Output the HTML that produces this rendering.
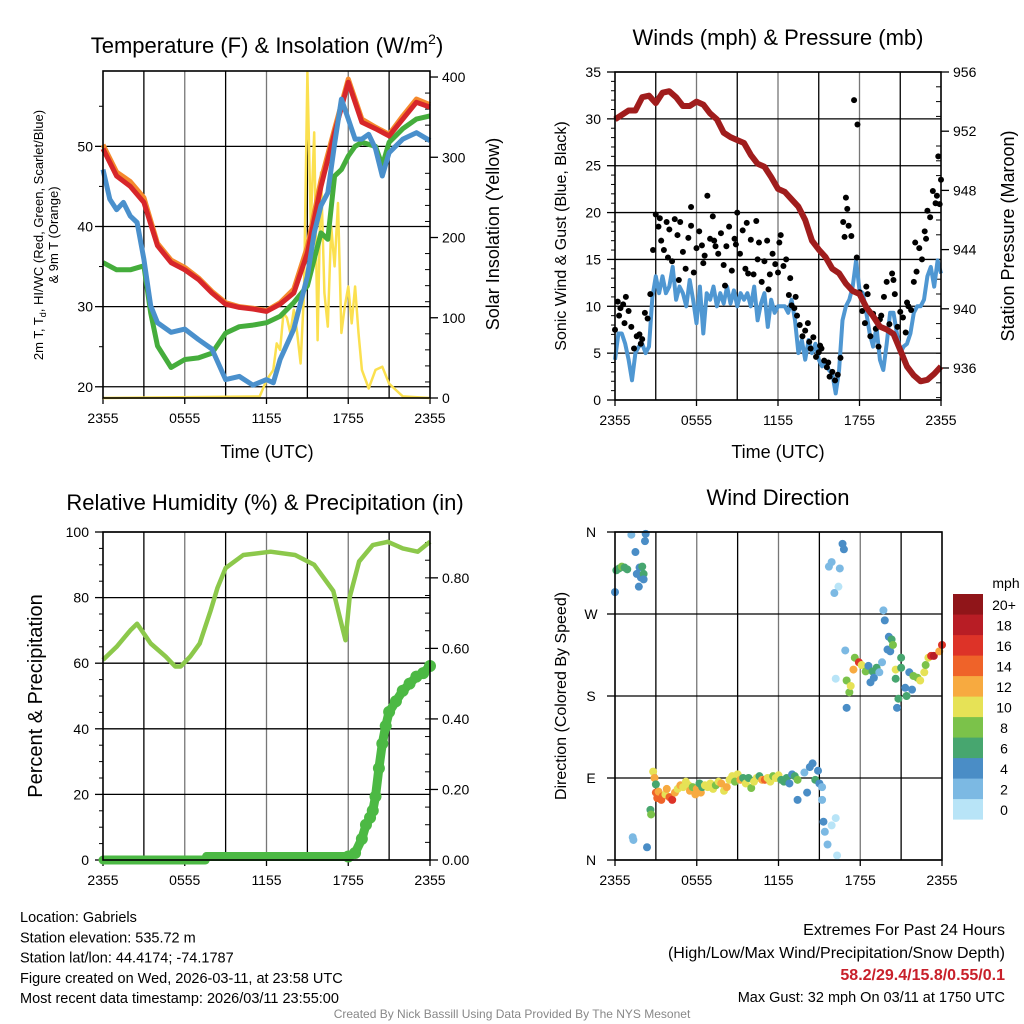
<!DOCTYPE html>
<html><head><meta charset="utf-8"><style>
html,body{margin:0;padding:0;background:#fff;}
svg{display:block;font-family:"Liberation Sans",Arial,sans-serif;}
</style></head><body>
<svg id="chart" width="1024" height="1024" viewBox="0 0 1024 1024" xmlns="http://www.w3.org/2000/svg"></svg>
<script>
// ---------- Panel 1 data: temperature (F) & insolation ----------
const tempHours = [0,1,2,3,4,5,6,7,8,9,10,11,12,13,14,15,16,17,18,19,20,21,22,23,24];
const tempRed = [49.7,46.3,45,43,37.6,35.5,34.6,33.4,31.7,30.3,29.9,29.7,29.4,30.3,31.7,36.7,45,51.7,58,53,52.2,51.3,53.4,55.5,54.9];
const tempOrange = [50.2,46.8,45.6,43.6,37.9,35.8,34.9,33.6,31.9,30.5,30.0,29.8,29.5,30.5,32.2,37.5,45.8,52.2,58.4,53.4,52.4,51.5,53.8,55.9,55.2];
const hiHours = [0,0.5,1,1.5,2,2.5,3,3.5,4,5,6,7,8,9,10,11,12,12.5,13,14,15,15.5,16,16.5,17,17.5,18,18.5,19,19.5,20,20.5,21,22,23,24];
const tempBlue = [47.1,43.4,42.1,43,41.3,40.5,35.9,30.1,28,26.8,27.2,25.9,24.7,20.9,21.3,20.2,20.9,20.5,23.4,27.2,33.8,39.2,42.6,44.2,50.3,55.9,53.4,50.9,50.9,51.5,49.7,46.3,49.2,50.9,51.7,50.7];
const dewHours = [0,1,2,3,3.5,4,5,6,7,8,9,10,11,12,13,14,15,15.5,16,16.5,17,17.5,18,18.5,19,20,20.5,21,22,23,24];
const tempGreen = [35.5,34.6,34.6,35.1,29.2,25.1,22.4,23.4,23.6,24.2,26.7,27.5,27.7,28,28.8,30.5,32.6,35.9,39.2,38.4,46.3,47.1,48.8,50,50.5,50,47.6,50.5,52.2,53.4,53.8];
const solarHours = [0,11.5,12,12.5,12.75,13,13.25,13.5,13.75,14,14.25,14.5,14.75,15,15.25,15.5,15.75,16,16.25,16.5,16.75,17,17.25,17.5,17.75,18,18.25,18.5,18.75,19,19.5,20,20.5,21,21.5,22,24];
const solarValues = [0,2,22,35,68,60,106,100,81,110,81,43,131,406,214,331,72,281,131,89,214,164,243,81,114,139,93,139,81,35,12,35,39,18,10,2,0];
const p1LeftTicks = [20,30,40,50];
const p1RightTicks = [0,100,200,300,400];
const timeTickLabels = ["2355","0555","1155","1755","2355"];

// ---------- Panel 2 data: winds & pressure ----------
const windStep = 0.25;
const windSonic = [4.3,7.1,7.1,6.0,4.3,2.1,5.0,5.7,6.0,5.0,5.7,11.0,13.2,11.4,13.2,11.4,12.1,14.2,10.7,12.1,11.4,10.0,12.8,10.7,8.2,12.1,7.1,11.4,10.7,12.1,10.0,11.4,10.3,12.1,10.3,11.7,10.0,11.4,10.7,11.4,10.0,12.1,8.5,10.3,11.4,7.8,10.7,9.3,10.0,10.0,10.0,9.3,10.7,8.5,5.0,6.4,4.3,6.4,5.0,6.0,4.3,3.6,3.9,3.2,2.8,0.7,3.2,8.5,10.0,10.7,12.1,14.9,11.7,11.4,9.3,7.1,5.7,7.8,4.3,3.2,6.0,9.3,9.3,7.1,5.0,5.7,6.0,7.1,9.3,10.0,10.0,10.7,13.2,14.2,12.1,14.9,13.5];
const gustStep = 0.2;
const gustValues = [7.5,10.5,9.8,10.2,11,9.5,7.8,5.5,6.8,7.0,6.5,9.3,8.7,11.3,16.0,19.8,18.5,17.0,16.0,19.0,18.2,14.8,19.3,17.6,19.0,15.8,14.0,17.3,20.6,13.6,16.2,18.0,16.5,15.4,21.8,17.2,19.6,16.4,15.6,17.8,14.4,16.4,18.5,13.8,17.2,20.0,15.6,18.1,14.0,13.5,17.1,13.4,19.1,16.8,12.6,14.8,17.0,13.4,15.6,14.5,13.6,17.6,14.3,15.0,11.2,10.1,9.8,9.0,8.0,6.8,7.4,8.2,5.5,6.7,4.6,5.1,5.5,4.2,3.5,2.5,3.0,2.1,2.7,4.5,19.0,21.6,18.6,17.5,32.0,15.2,11.5,9.5,8.2,11.3,6.8,9.2,7.6,5.7,9.0,11.0,12.6,8.1,13.5,11.3,7.8,9.4,8.8,7.2,10.0,9.6,12.6,13.7,16.2,15.0,18.0,20.2,19.5,22.3,21.0,26.0,23.5];
const gustExtraHours = [0.3,0.7,1.9,3.3,3.9,4.7,5.6,6.5,7.3,8.1,8.9,9.7,10.5,11.3,12.1,12.9,13.3,14.3,15.1,15.7,16.9,17.1,17.85,18.5,19.5,20.5,21.5,22.1,22.9,23.7,23.9];
const gustExtraValues = [9.0,8.2,6.0,19.4,15.2,12.8,18.6,14.6,17.0,12.2,16.6,18.9,15.0,11.8,16.8,13.0,11.0,6.2,5.8,4.0,17.4,20.4,29.4,12.1,8.6,12.8,10.4,16.8,17.2,21.8,20.9];
const presHours = [0,1,1.5,2,2.5,3,3.5,4,4.5,5,5.5,6,6.5,7,7.5,8,8.5,9,9.5,10,10.5,11,11.5,12,12.5,13,13.5,14,14.5,15,15.5,16,16.5,17,17.5,18,18.5,19,19.5,20,20.5,21,21.5,22,22.5,23,23.5,24];
const presValues = [952.8,953.4,953.4,954.3,954.4,953.9,954.6,954.7,954.3,953.7,953.7,954,953.8,953.2,952.8,951.9,951.6,951.4,951.2,950.4,949.8,949.6,948.9,948.1,947.9,947.4,946.9,946,944.6,944,943.5,942.7,942.4,941.7,941.2,941,940.1,939.5,938.8,938.6,938.3,937.2,936.1,935.5,935.1,935.2,935.6,936.1];
const p2LeftTicks = [0,5,10,15,20,25,30,35];
const p2RightTicks = [936,940,944,948,952,956];

// ---------- Panel 3 data: RH & precipitation ----------
const rhHours = [0,1,2,2.5,3.5,4.6,5.3,5.7,6.4,7.1,7.9,8.4,9,10.3,12.3,14.1,15.5,16.9,17.5,17.8,18.1,18.8,19.8,20.9,22,23.1,24];
const rhValues = [61,65,70,72,66,62,59,59,62,66,76,83,89,93,94,93,90,82,72,67,80,91,96,97,95,94,97];
const precipHours = [0,7.5,7.6,18,18.5,19,19.3,19.6,19.8,20,20.25,20.5,20.75,21,21.5,22,22.5,23,23.5,24];
const precipValues = [0,0,0.01,0.01,0.02,0.06,0.10,0.12,0.14,0.18,0.26,0.33,0.38,0.42,0.45,0.48,0.50,0.52,0.53,0.55];
const p3LeftTicks = [0,20,40,60,80,100];
const p3RightTicks = [0,0.2,0.4,0.6,0.8];

// ---------- Panel 4 data: wind direction ----------
const dirHours = [0,0.1,0.3,0.5,0.7,0.9,1.2,1.5,1.6,1.75,1.8,1.9,2.0,2.1,2.1,2.2,2.25,1.3,1.35,2.35,2.6,2.65,
2.8,2.9,3.0,3.0,3.1,3.2,3.4,3.5,3.7,3.8,4.0,4.2,4.4,4.6,4.8,5.0,5.2,5.4,5.5,5.7,5.9,6.0,6.2,6.3,6.4,6.6,6.8,7.0,7.2,7.4,7.6,7.8,8.0,8.2,8.4,8.6,8.8,9.0,9.2,9.4,9.6,9.8,10.0,10.2,10.4,10.6,10.8,11.0,11.2,11.4,11.6,11.8,12.0,12.2,12.4,12.6,12.8,13.0,13.2,13.4,13.4,13.9,14.1,14.3,14.5,14.7,14.9,15.0,
15.2,15.2,15.3,15.4,15.6,15.9,16.2,16.3,15.7,15.9,16.5,16.7,16.8,16.4,16.1,
16.2,16.9,17.0,17.0,17.2,17.3,17.5,17.6,17.9,18.1,18.4,18.6,18.75,18.9,19.0,19.2,19.4,19.6,19.7,19.8,20.0,20.1,20.2,20.3,20.4,20.6,20.6,21.0,21.0,20.8,20.7,21.3,21.4,21.6,21.8,21.9,22.2,22.4,22.7,22.8,23.0,23.2,23.4,23.8,24.0];
const dirValues = [294,318,320,322,321,319,357,338,314,300,321,310,322,314,308,350,358,25,22,14,55,50,
97,90,83,74,68,75,66,70,72,78,69,66,74,78,82,80,86,82,76,80,72,78,84,74,80,82,80,84,78,82,86,84,76,80,88,92,86,94,88,90,84,90,79,86,90,92,88,88,90,86,92,90,93,88,86,90,84,94,92,88,66,96,74,102,106,88,98,84,
80,66,42,31,17,38,46,5,322,327,320,347,341,300,293,
199,230,197,167,184,191,209,222,217,214,207,213,195,207,200,211,206,217,274,263,231,245,229,242,236,209,199,222,211,177,167,189,180,206,187,202,200,197,206,214,222,224,224,229,236];
const dirSpeeds = [4,7,7,8,7,6,2,4,4,4,4,4,6,6,4,4,4,2,2,4,6,8,
10,12,6,14,14,12,15,14,10,12,15,16,12,11,13,10,10,11,13,8,13,12,6,12,7,10,11,10,11,9,10,13,10,12,11,10,8,11,13,6,10,7,8,11,10,6,12,14,10,10,8,11,10,6,7,6,5,5,6,8,4,3,4,4,4,6,4,4,
2,2,4,3,3,1,1,1,3,3,3,4,4,1,3,
1,3,8,4,8,10,13,8,16,10,8,4,4,6,4,6,3,3,3,4,4,5,4,7,8,10,6,6,6,6,4,5,6,4,4,8,8,10,10,8,10,16,18,12,16];
const p4DirTicks = ["N","E","S","W","N"];
const speedBinLabels = ["0","2","4","6","8","10","12","14","16","18","20+"];
const speedBinColors = ["#b8e4f7","#7cb9e3","#4a8dc6","#47a66f","#7bc24a","#e6e256","#f7aa40","#ef6329","#dd3328","#b81d25","#901519"];

// ---------- helpers ----------
const NS = "http://www.w3.org/2000/svg";
const svg = document.getElementById("chart");
function mk(tag, attrs, parent) {
  const e = document.createElementNS(NS, tag);
  for (const k in attrs) e.setAttribute(k, attrs[k]);
  (parent || svg).appendChild(e);
  return e;
}
function txt(x, y, s, size, anchor, parent, extra) {
  const t = mk("text", Object.assign({x: x, y: y, "font-size": size, "text-anchor": anchor || "middle", fill: "#000"}, extra || {}), parent);
  t.textContent = s;
  return t;
}
function lin(d0, d1, r0, r1) { return v => r0 + (v - d0) / (d1 - d0) * (r1 - r0); }

function frame(P, name) {
  const g = mk("g", {});
  
  
  // vertical grid every 3h
  for (let h = 3; h < 24; h += 3) {
    const gl = mk("line", {x1: P.x(h), x2: P.x(h), y1: P.y0, y2: P.y1, stroke: (h % 6 === 0) ? "#777" : "#000", "stroke-width": 1.3}, g);
    
    
  }
  for (let i = 0; i < timeTickLabels.length; i++) {
    const xx = P.x(i * 6);
    mk("line", {x1: xx, x2: xx, y1: P.y1, y2: P.y1 + 6, stroke: "#000", "stroke-width": 1.3}, g);
    const t = txt(xx, P.y1 + 25, timeTickLabels[i], 14, "middle", g);
    
    
  }
  return g;
}
function box(P, g) {
  const r = mk("rect", {x: P.x0, y: P.y0, width: P.x1 - P.x0, height: P.y1 - P.y0, fill: "none", stroke: "#000", "stroke-width": 1.6}, g);
  
  
}
function path(xs, ys, fx, fy) {
  let d = "";
  for (let i = 0; i < xs.length; i++) d += (i ? "L" : "M") + fx(xs[i]).toFixed(1) + "," + fy(ys[i]).toFixed(1);
  return d;
}

// ================= Panel 1 =================
const P1 = {x0: 103, x1: 430, y0: 71, y1: 398};
P1.x = lin(0, 24, P1.x0, P1.x1);
const t1y = lin(18.6, 59.4, 398, 71);
const s1y = lin(0, 407.5, 398, 71);
const g1 = frame(P1, "temperature-panel");
p1LeftTicks.forEach(v => {
  mk("line", {x1: P1.x0, x2: P1.x1, y1: t1y(v), y2: t1y(v), stroke: "#000", "stroke-width": 1.3}, g1);
  mk("line", {x1: P1.x0 - 8, x2: P1.x0, y1: t1y(v), y2: t1y(v), stroke: "#000", "stroke-width": 1.3}, g1);
  const t = txt(P1.x0 - 10, t1y(v) + 5, String(v), 14, "end", g1);
  
  
});
[25,35,45,55].forEach(v => mk("line", {x1: P1.x0 - 4, x2: P1.x0, y1: t1y(v), y2: t1y(v), stroke: "#000"}, g1));
p1RightTicks.forEach(v => {
  mk("line", {x1: P1.x1, x2: P1.x1 + 8, y1: s1y(v), y2: s1y(v), stroke: "#000", "stroke-width": 1.3}, g1);
  const t = txt(P1.x1 + 12, s1y(v) + 5, String(v), 14, "start", g1);
  
  
});
for (let v = 20; v < 400; v += 20) if (v % 100) mk("line", {x1: P1.x1 - 5, x2: P1.x1, y1: s1y(v), y2: s1y(v), stroke: "#000"}, g1);
const solar = mk("path", {d: path(solarHours, solarValues, P1.x, s1y), fill: "none", stroke: "#fbe04f", "stroke-width": 2.5, "stroke-linejoin": "round"}, g1);


const gLine = mk("path", {d: path(dewHours, tempGreen, P1.x, t1y), fill: "none", stroke: "#45ad3c", "stroke-width": 5, "stroke-linejoin": "round"}, g1);


const oLine = mk("path", {d: path(tempHours, tempOrange, P1.x, t1y), fill: "none", stroke: "#f58a2d", "stroke-width": 5, "stroke-linejoin": "round"}, g1);


const rLine = mk("path", {d: path(tempHours, tempRed, P1.x, t1y), fill: "none", stroke: "#d7262a", "stroke-width": 5, "stroke-linejoin": "round"}, g1);


const bLine = mk("path", {d: path(hiHours, tempBlue, P1.x, t1y), fill: "none", stroke: "#4a90cc", "stroke-width": 5, "stroke-linejoin": "round"}, g1);


box(P1, g1);
let tt = txt(267, 53, "", 22, "middle", g1);
tt.innerHTML = 'Temperature (F) &amp; Insolation (W/m<tspan dy="-9" font-size="14">2</tspan><tspan dy="9">)</tspan>';


tt = txt(267, 458, "Time (UTC)", 18, "middle", g1);


tt = txt(0, 0, "", 13, "middle", g1, {transform: "translate(43,235) rotate(-90)"});
tt.innerHTML = '2m T, T<tspan dy="3" font-size="9">d</tspan><tspan dy="-3">, HI/WC (Red, Green, Scarlet/Blue)</tspan>';


tt = txt(0, 0, "& 9m T (Orange)", 13, "middle", g1, {transform: "translate(58,235) rotate(-90)"});


tt = txt(0, 0, "Solar Insolation (Yellow)", 18, "middle", g1, {transform: "translate(499,234) rotate(-90)"});



// ================= Panel 2 =================
const P2 = {x0: 615, x1: 941, y0: 72, y1: 400};
P2.x = lin(0, 24, P2.x0, P2.x1);
const w2y = lin(0, 35, 400, 72);
const p2y = lin(936, 956, 368, 72);
const g2 = frame(P2, "winds-panel");
p2LeftTicks.forEach(v => {
  mk("line", {x1: P2.x0, x2: P2.x1, y1: w2y(v), y2: w2y(v), stroke: "#000", "stroke-width": 1.3}, g2);
  mk("line", {x1: P2.x0 - 8, x2: P2.x0, y1: w2y(v), y2: w2y(v), stroke: "#000", "stroke-width": 1.3}, g2);
  const t = txt(P2.x0 - 14, w2y(v) + 5, String(v), 14, "end", g2);
  
  
});
for (let v = 1; v < 35; v++) if (v % 5) mk("line", {x1: P2.x0 - 4, x2: P2.x0, y1: w2y(v), y2: w2y(v), stroke: "#000"}, g2);
p2RightTicks.forEach(v => {
  mk("line", {x1: P2.x1, x2: P2.x1 + 8, y1: p2y(v), y2: p2y(v), stroke: "#000", "stroke-width": 1.3}, g2);
  const t = txt(P2.x1 + 12, p2y(v) + 5, String(v), 14, "start", g2);
  
  
});
for (let v = 934; v < 956; v++) if (v % 4) mk("line", {x1: P2.x1 - 5, x2: P2.x1, y1: p2y(v), y2: p2y(v), stroke: "#000"}, g2);
const windX = windSonic.map((v, i) => i * windStep);
const wLine = mk("path", {d: path(windX, windSonic, P2.x, w2y), fill: "none", stroke: "#4f97d2", "stroke-width": 4, "stroke-linejoin": "round"}, g2);


gustValues.forEach((v, i) => {
  const c = mk("circle", {cx: P2.x(i * gustStep), cy: w2y(v), r: 3, fill: "#000"}, g2);
  
  
});
gustExtraValues.forEach((v, i) => {
  const c = mk("circle", {cx: P2.x(gustExtraHours[i]), cy: w2y(v), r: 3, fill: "#000"}, g2);
  
  
});
const pLine = mk("path", {d: path(presHours, presValues, P2.x, p2y), fill: "none", stroke: "#a01d1d", "stroke-width": 6, "stroke-linejoin": "round"}, g2);


box(P2, g2);
tt = txt(778, 45, "Winds (mph) & Pressure (mb)", 22, "middle", g2);


tt = txt(778, 458, "Time (UTC)", 18, "middle", g2);


tt = txt(0, 0, "Sonic Wind & Gust (Blue, Black)", 16, "middle", g2, {transform: "translate(566,236) rotate(-90)"});


tt = txt(0, 0, "Station Pressure (Maroon)", 18, "middle", g2, {transform: "translate(1014,236) rotate(-90)"});



// ================= Panel 3 =================
const P3 = {x0: 103, x1: 430, y0: 532, y1: 860};
P3.x = lin(0, 24, P3.x0, P3.x1);
const r3y = lin(0, 100, 860, 532);
const q3y = lin(0, 0.93, 860, 532);
const g3 = frame(P3, "humidity-panel");
p3LeftTicks.forEach(v => {
  mk("line", {x1: P3.x0, x2: P3.x1, y1: r3y(v), y2: r3y(v), stroke: "#000", "stroke-width": 1.3}, g3);
  mk("line", {x1: P3.x0 - 8, x2: P3.x0, y1: r3y(v), y2: r3y(v), stroke: "#000", "stroke-width": 1.3}, g3);
  const t = txt(P3.x0 - 14, r3y(v) + 5, String(v), 14, "end", g3);
  
  
});
for (let v = 5; v < 100; v += 5) if (v % 20) mk("line", {x1: P3.x0 - 4, x2: P3.x0, y1: r3y(v), y2: r3y(v), stroke: "#000"}, g3);
p3RightTicks.forEach(v => {
  mk("line", {x1: P3.x1, x2: P3.x1 + 8, y1: q3y(v), y2: q3y(v), stroke: "#000", "stroke-width": 1.3}, g3);
  const t = txt(P3.x1 + 12, q3y(v) + 5, v.toFixed(2), 14, "start", g3);
  
  
});
for (let v = 0.05; v < 0.92; v += 0.05) mk("line", {x1: P3.x1 - 5, x2: P3.x1, y1: q3y(v), y2: q3y(v), stroke: "#000"}, g3);
const rhLine = mk("path", {d: path(rhHours, rhValues, P3.x, r3y), fill: "none", stroke: "#8cc84b", "stroke-width": 4.5, "stroke-linejoin": "round"}, g3);


// precip drawn as dense large dots along the interpolated series
const prLine = mk("path", {d: path(precipHours, precipValues, P3.x, q3y), fill: "none", stroke: "#4cb944", "stroke-width": 9, "stroke-linejoin": "round", "stroke-linecap": "round"}, g3);


precipValues.forEach((v, i) => {
  if (precipHours[i] < 18) return;
  const c = mk("circle", {cx: P3.x(precipHours[i]), cy: q3y(v), r: 6, fill: "#4cb944"}, g3);
  
  
});
box(P3, g3);
tt = txt(265, 510, "Relative Humidity (%) & Precipitation (in)", 22, "middle", g3);


tt = txt(0, 0, "Percent & Precipitation", 20, "middle", g3, {transform: "translate(42,696) rotate(-90)"});



// ================= Panel 4 =================
const P4 = {x0: 615, x1: 942, y0: 532, y1: 860};
P4.x = lin(0, 24, P4.x0, P4.x1);
const d4y = lin(0, 360, 860, 532);
const g4 = frame(P4, "wind-direction-panel");
p4DirTicks.forEach((s, i) => {
  const yy = d4y(i * 90);
  mk("line", {x1: P4.x0, x2: P4.x1, y1: yy, y2: yy, stroke: "#000", "stroke-width": 1.3}, g4);
  mk("line", {x1: P4.x0 - 8, x2: P4.x0, y1: yy, y2: yy, stroke: "#000", "stroke-width": 1.3}, g4);
  const t = txt(P4.x0 - 24, yy + 5, s, 14, "middle", g4);
  
  
});
function speedColor(s) { return speedBinColors[Math.min(10, Math.floor(s / 2))]; }
dirValues.forEach((v, i) => {
  const c = mk("circle", {cx: P4.x(dirHours[i]), cy: d4y(v), r: 4, fill: speedColor(dirSpeeds[i])}, g4);
  
  
});
box(P4, g4);
tt = txt(778, 505, "Wind Direction", 22, "middle", g4);


tt = txt(0, 0, "Direction (Colored By Speed)", 16, "middle", g4, {transform: "translate(566,696) rotate(-90)"});


const leg = mk("g", {});


speedBinColors.forEach((c, i) => {
  const yy = 594 + (10 - i) * 20.5;
  const r = mk("rect", {x: 953, y: yy, width: 30, height: 20.6, fill: c}, leg);
  
  
  const t = txt(1004, yy + 16, speedBinLabels[i], 14, "middle", leg);
  
  
});
tt = txt(1006, 588, "mph", 14, "middle", leg);



// ================= Footer text =================
const info = ["Location: Gabriels","Station elevation: 535.72 m","Station lat/lon: 44.4174; -74.1787","Figure created on Wed, 2026-03-11, at 23:58 UTC","Most recent data timestamp: 2026/03/11 23:55:00"];
info.forEach((s, i) => {
  const t = txt(20, 922 + i * 20.3, s, 14.5, "start");
  
  
});
tt = txt(1005, 935, "Extremes For Past 24 Hours", 16, "end");


tt = txt(1005, 958, "(High/Low/Max Wind/Precipitation/Snow Depth)", 16, "end");


tt = txt(1005, 980, "58.2/29.4/15.8/0.55/0.1", 16, "end", null, {fill: "#c8202a", "font-weight": "bold"});


tt = txt(1005, 1002, "Max Gust: 32 mph On 03/11 at 1750 UTC", 14.5, "end");


tt = txt(512, 1018, "Created By Nick Bassill Using Data Provided By The NYS Mesonet", 12, "middle", null, {fill: "#888"});


</script>
</body></html>
